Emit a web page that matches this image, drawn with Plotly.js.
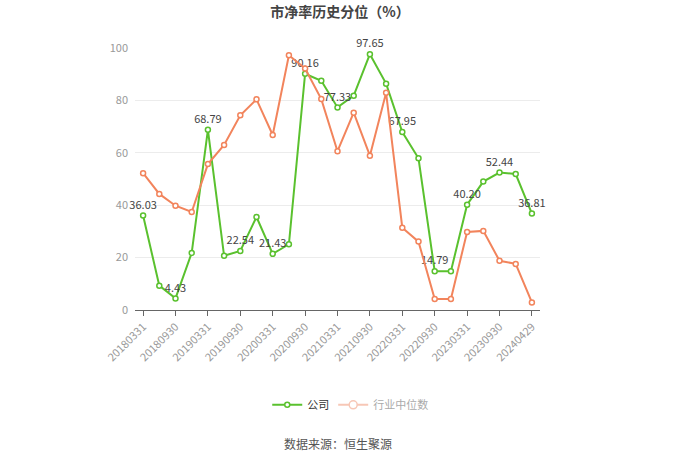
<!DOCTYPE html>
<html><head><meta charset="utf-8">
<script src="https://cdn.plot.ly/plotly-3.0.1.min.js"></script>
<style>html,body{margin:0;padding:0;background:#fff}#chart{width:680px;height:460px}</style>
</head><body><div id="chart"></div>
<script>
const dates = ["20180331","20180630","20180930","20181231","20190331","20190630","20190930","20191231",
"20200331","20200630","20200930","20201231","20210331","20210630","20210930","20211231",
"20220331","20220630","20220930","20221231","20230331","20230630","20230930","20231231","20240429"];
const company = [36.03,9.3,4.43,21.8,68.79,20.7,22.54,35.5,21.43,25.1,90.16,87.5,77.33,81.8,97.65,86.4,
67.95,57.9,14.79,14.79,40.20,49.0,52.44,51.9,36.81];
const industry = [52.2,44.3,39.8,37.4,55.7,63.0,74.3,80.4,66.8,97.2,92.2,80.5,60.6,75.3,58.9,82.9,
31.4,26.1,4.2,4.2,29.8,30.2,18.8,17.6,2.9];
const tickDates = dates.filter((d,i)=>i%2===0);
const labels = company.map((v,i)=> i%2===0 ? v.toFixed(2) : "");

const font = "Noto Sans CJK SC, Microsoft YaHei, sans-serif";
const green = "#5ac12e", orange = "#f2845c";

const traces = [
 {x: dates, y: company, type:"scatter", mode:"lines+markers+text", name:"公司",
  line:{color:green, width:2}, marker:{symbol:"circle", size:5, color:"#fff", line:{color:green, width:1.5}},
  text: labels, textposition:"top center", textfont:{family:font, size:11, color:"#444"},
  cliponaxis:false, legend:"legend"},
 {x: dates, y: industry, type:"scatter", mode:"lines+markers", name:"行业中位数",
  line:{color:orange, width:2}, marker:{symbol:"circle", size:5, color:"#fff", line:{color:orange, width:1.5}},
  showlegend:false},
 {x: [null], y: [null], type:"scatter", mode:"lines+markers", name:"行业中位数",
  line:{color:"#f7c7b6", width:2}, marker:{symbol:"circle", size:8, color:"#fff", line:{color:"#f7c7b6", width:1.5}},
  legend:"legend2"}
];
const layout = {
 width:680, height:460, paper_bgcolor:"#fff", plot_bgcolor:"#fff",
 margin:{l:135, r:140, t:48, b:150, autoexpand:false},
 font:{family:font},
 title:{text:"市净率历史分位（%）", x:0.5, xanchor:"center", y:0.985, yanchor:"top",
   font:{family:font, size:14, color:"#444", weight:"bold"}},
 xaxis:{type:"category", range:[-0.5,24.5], tickvals:tickDates, ticktext:tickDates, tickangle:-45,
   tickfont:{size:11, color:"#999"}, showgrid:false, showline:true, linecolor:"#666", linewidth:1,
   ticks:"outside", ticklen:5, tickcolor:"#666", zeroline:false, fixedrange:true},
 yaxis:{range:[0,100], tickvals:[0,20,40,60,80,100], tickfont:{size:11, color:"#999"},
   showgrid:true, gridcolor:"#ececec", zeroline:false, showline:false, ticks:"", ticklabelstandoff:6},
 legend:{orientation:"h", xref:"container", yref:"container", x:0.393, xanchor:"left", y:0.12, yanchor:"middle",
   bgcolor:"rgba(0,0,0,0)", font:{family:font, size:11, color:"#333"}, itemwidth:30},
 legend2:{orientation:"h", xref:"container", yref:"container", x:0.49, xanchor:"left", y:0.12, yanchor:"middle",
   bgcolor:"rgba(0,0,0,0)", font:{family:font, size:11, color:"#aaa"}, itemwidth:30},
 annotations:[{text:"数据来源：恒生聚源", xref:"paper", yref:"paper", x:0.5, y:-0.508, xanchor:"center", yanchor:"middle",
   showarrow:false, font:{family:font, size:12, color:"#555"}}]
};
Plotly.newPlot("chart", traces, layout, {displayModeBar:false, staticPlot:true});
</script></body></html>
